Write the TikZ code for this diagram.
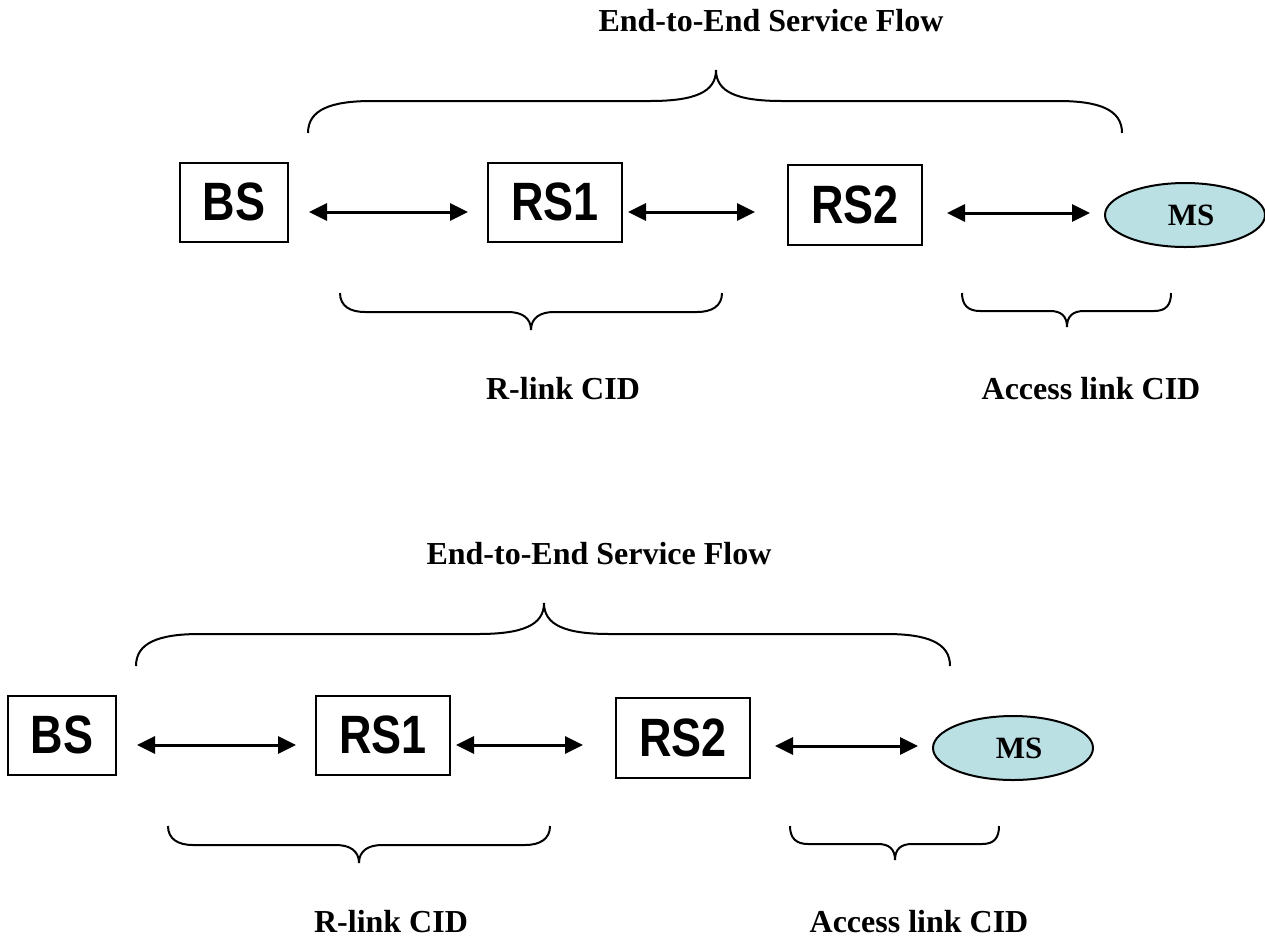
\documentclass[tikz,border=0pt]{standalone}
\usepackage{fontspec}
\usepackage{graphicx}
\setmainfont{Liberation Serif}
\newfontfamily\boxfont{Liberation Sans}
\usetikzlibrary{shapes.geometric, arrows.meta, calc}
\definecolor{msblue}{RGB}{187, 224, 227}
\newcommand{\stretchy}[1]{\scalebox{1}[1.2]{#1}}

\begin{document}
\begin{tikzpicture}[
    x=1pt, y=-1pt,
    netbox/.style={rectangle, draw=black, line width=2pt, minimum height=79pt,
                   inner sep=0pt, font=\boxfont\bfseries\fontsize{45}{45}\selectfont},
    msnode/.style={ellipse, draw=black, fill=msblue, line width=2pt,
                   minimum width=160pt, minimum height=64pt, inner sep=0pt,
                   font=\bfseries\fontsize{31}{31}\selectfont},
    link/.style={{Triangle[length=18pt,width=17pt]}-{Triangle[length=18pt,width=17pt]}, line width=3pt},
    brace/.style={line width=2pt},
    label/.style={font=\bfseries\fontsize{32}{32}\selectfont}
]
\useasboundingbox (0,0) rectangle (1265,938);

\foreach \dx/\dy/\r in {0/0/a, -172/533/b} {
\begin{scope}[shift={(\dx,\dy)}]
\node[label] (flow\r) at (771,21) {End-to-End Service Flow};

\node[netbox, minimum width=108pt] (bs\r) at (234,202) {\stretchy{BS}};
\node[netbox, minimum width=134pt] (rsone\r) at (555,202) {\stretchy{RS1}};
\node[netbox, minimum width=134pt, minimum height=80pt] (rstwo\r) at (855,205) {\stretchy{RS2}};
\node[msnode] (ms\r) at (1185,215) {\hspace*{12pt}\raisebox{-3pt}{MS}};

\draw[link] ([xshift=20pt,yshift=-10pt]bs\r.east) -- ([xshift=-19pt,yshift=-10pt]rsone\r.west);
\draw[link] ([xshift=5pt,yshift=-10pt]rsone\r.east) -- ([xshift=-32pt,yshift=-7pt]rstwo\r.west);
\draw[link] ([xshift=24pt,yshift=-8pt]rstwo\r.east) -- ([xshift=-14pt,yshift=2pt]ms\r.west);

% end-to-end brace
\draw[brace] (308,133) .. controls (308,110) and (330,101) .. (372,101) -- (650,101)
    .. controls (695,101) and (716,92) .. (716,70)
    .. controls (716,92) and (737,101) .. (782,101) -- (1058,101)
    .. controls (1100,101) and (1122,110) .. (1122,133);
% relay link brace
\draw[brace] (340,293) .. controls (340,306) and (350,312) .. (365,312) -- (508,312)
    .. controls (522,312) and (531,318) .. (531,330)
    .. controls (531,318) and (540,312) .. (554,312) -- (697,312)
    .. controls (712,312) and (722,306) .. (722,293);
% access link brace
\draw[brace] (962,293) .. controls (962,305) and (968,311) .. (980,311) -- (1050,311)
    .. controls (1061,311) and (1067,316) .. (1067,327)
    .. controls (1067,316) and (1073,311) .. (1084,311) -- (1154,311)
    .. controls (1166,311) and (1171,305) .. (1171,293);

\node[label] (rlink\r) at (563,389) {R-link CID};
\node[label] (access\r) at (1091,389) {Access link CID};
\end{scope}
}
\end{tikzpicture}
\end{document}
